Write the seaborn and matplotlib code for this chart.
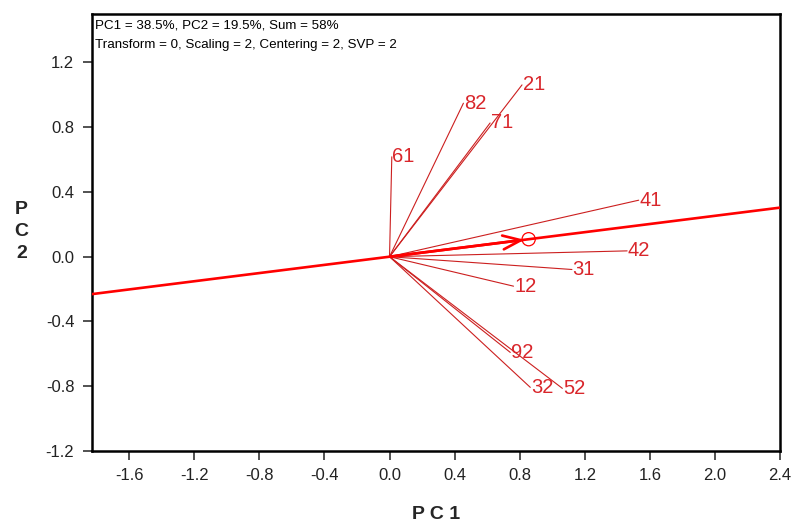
import numpy as np
import pandas as pd
import matplotlib
matplotlib.use("Agg")
import matplotlib.pyplot as plt
import seaborn as sns

# Variable loadings (biplot vectors) on PC1 / PC2
labels = ["21", "82", "71", "61", "41", "42", "31", "12", "92", "32", "52"]
pc1 = [0.814, 0.454, 0.618, 0.014, 1.531, 1.460, 1.121, 0.762, 0.742, 0.865, 1.062]
pc2 = [1.061, 0.948, 0.826, 0.617, 0.349, 0.036, -0.079, -0.182, -0.591, -0.807, -0.813]

# Average-tester coordinate defining the main axis
atc_point = (0.855, 0.108)

xticks = [-1.6, -1.2, -0.8, -0.4, 0.0, 0.4, 0.8, 1.2, 1.6, 2.0, 2.4]
yticks = [-1.2, -0.8, -0.4, 0.0, 0.4, 0.8, 1.2]
info_lines = ["PC1 = 38.5%, PC2 = 19.5%, Sum = 58%",
              "Transform = 0, Scaling = 2, Centering = 2, SVP = 2"]

sns.set_theme(style="white")
plt.rcParams["font.family"] = ["Liberation Sans", "DejaVu Sans"]

vec_color = "#cc1f1f"
lab_color = "#d9262b"
axis_red = "#ff0000"

fig = plt.figure(figsize=(7.94, 5.22), dpi=100)
ax = fig.add_axes([0.1155, 0.136, 0.867, 0.8375])

# Long-format table: each vector runs from the origin to its loading
rows = []
for lab, x, y in zip(labels, pc1, pc2):
    rows.append({"var": lab, "order": 0, "PC1": 0.0, "PC2": 0.0})
    rows.append({"var": lab, "order": 1, "PC1": x, "PC2": y})
vec_df = pd.DataFrame(rows)

sns.lineplot(data=vec_df, x="PC1", y="PC2", units="var", estimator=None,
             sort=False, color=vec_color, linewidth=0.8, ax=ax, legend=False)

for lab, x, y in zip(labels, pc1, pc2):
    ax.annotate(lab, (x, y), xytext=(0.5, 0), textcoords="offset points",
                ha="left", va="center", fontsize=14.5, color=lab_color)

# Main axis through the origin and the average point
ax.axline((0.0, 0.0), atc_point, color=axis_red, linewidth=1.9, zorder=3)
ax.annotate("", xy=atc_point, xytext=(0.0, 0.0),
            arrowprops=dict(arrowstyle="->,head_length=1.3,head_width=0.5",
                            mutation_scale=10, color=axis_red, lw=1.9,
                            shrinkA=0, shrinkB=3), zorder=4)
sns.scatterplot(x=[atc_point[0]], y=[atc_point[1]], ax=ax, s=90,
                facecolor="none", edgecolor=axis_red, linewidth=0.9,
                marker="o", zorder=5, legend=False)

ax.set_xlim(-1.83, 2.4)
ax.set_ylim(-1.2, 1.5)
ax.set_xticks(xticks)
ax.set_yticks(yticks)
ax.set_xticklabels([f"{v:.1f}" for v in xticks])
ax.set_yticklabels([f"{v:.1f}" for v in yticks])
ax.tick_params(axis="both", which="major", direction="out", length=6.5,
               width=1.1, color="#222222", labelsize=12, labelcolor="#222222",
               bottom=True, left=True, pad=6)

for sp in ax.spines.values():
    sp.set_visible(True)
    sp.set_color("black")
    sp.set_linewidth(1.8)

ax.set_xlabel("P C 1", fontsize=14, fontweight="bold", labelpad=16)
ax.set_ylabel("")
fig.text(0.027, 0.556, "P\nC\n2", fontsize=14, fontweight="bold",
         ha="center", va="center", linespacing=1.4)

ax.text(0.005, 0.987, "\n".join(info_lines), transform=ax.transAxes,
        ha="left", va="top", fontsize=9.6, color="black", linespacing=1.8)

fig.savefig("out.png", dpi=100)
